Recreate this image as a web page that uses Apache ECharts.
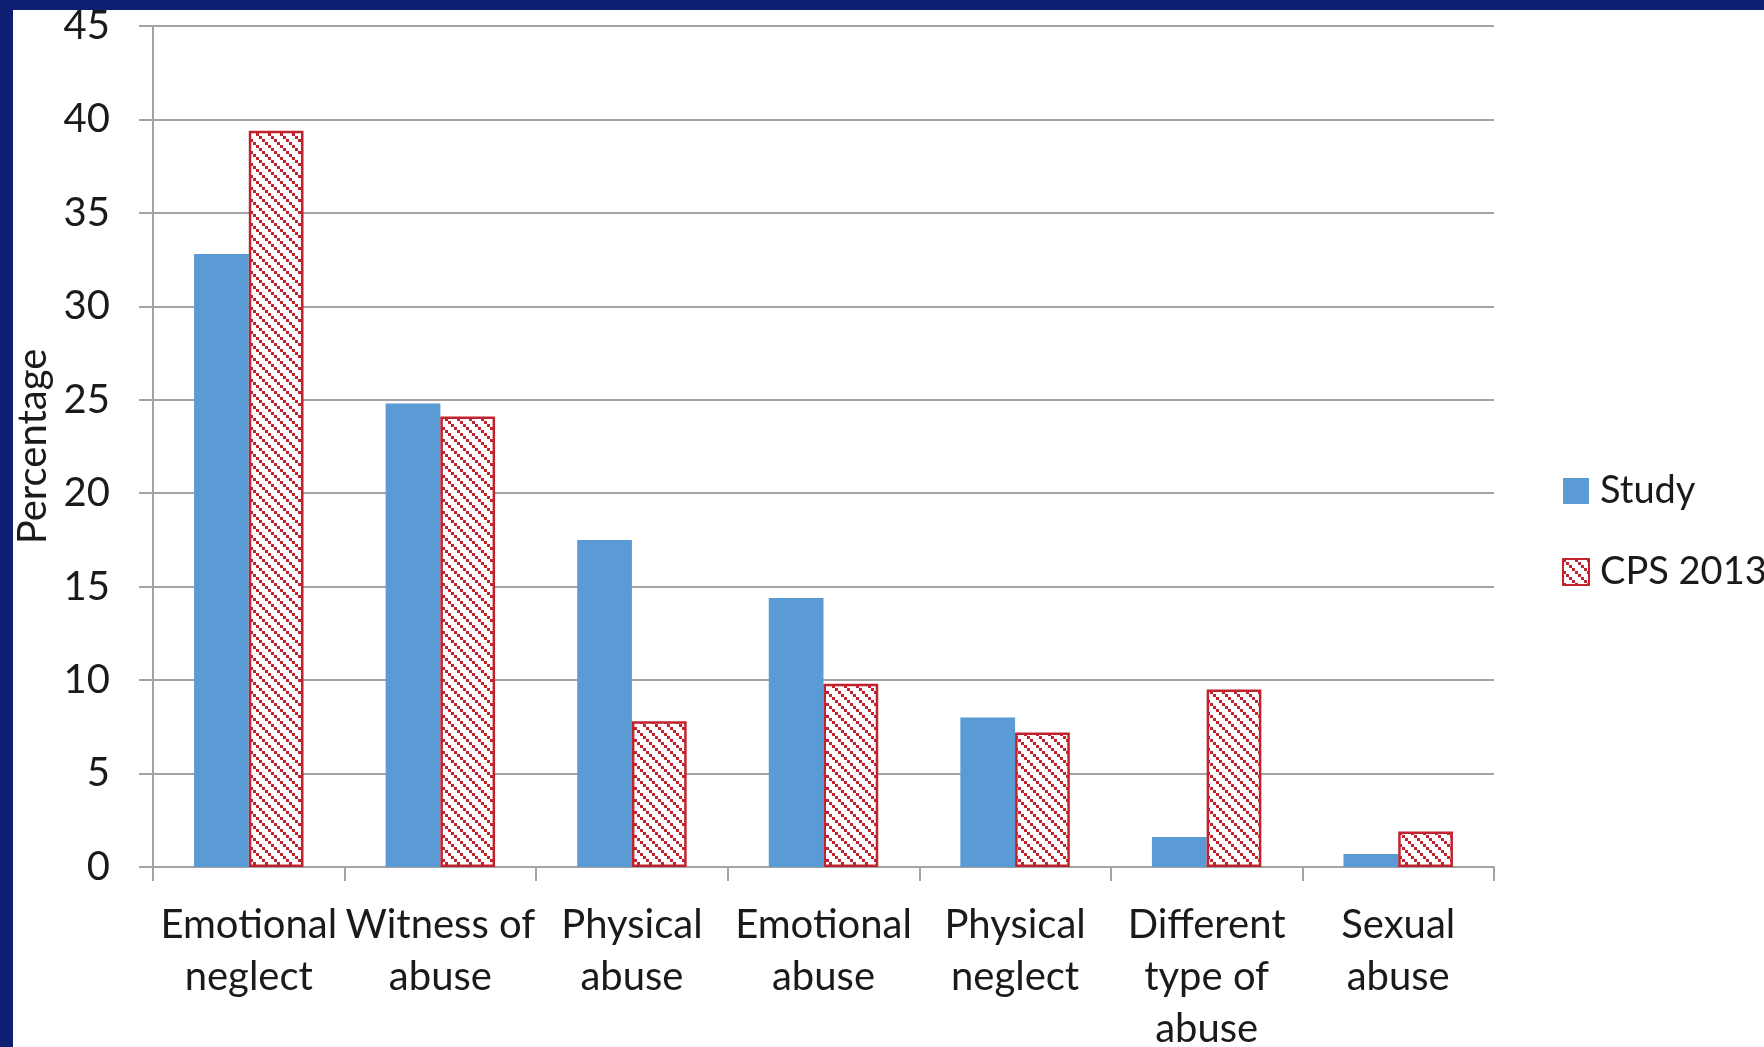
<!DOCTYPE html>
<html>
<head>
<meta charset="utf-8">
<title>Types of maltreatment: Study vs CPS 2013</title>
<script src="https://cdn.jsdelivr.net/npm/echarts@6/dist/echarts.min.js"></script>
<style>
  html, body { margin: 0; padding: 0; width: 1764px; height: 1047px; background: #0c1f72; overflow: hidden; }
  #chart { position: absolute; left: 13px; top: 10px; width: 1751px; height: 1037px; background: #ffffff; }
</style>
</head>
<body>
<div id="chart"></div>
<script>
// Maltreatment categories (line breaks as printed under the axis)
const categories = [
  'Emotional\nneglect',
  'Witness of\nabuse',
  'Physical\nabuse',
  'Emotional\nabuse',
  'Physical\nneglect',
  'Different\ntype of\nabuse',
  'Sexual\nabuse'
];

// Percentages per category
const studyValues = [32.8, 24.8, 17.5, 14.4, 8.0, 1.6, 0.7];
const cpsValues   = [39.4, 24.1, 7.8, 9.8, 7.2, 9.5, 1.9];

const seriesNames = ['Study', 'CPS 2013'];
const yAxisName = 'Percentage';

const FONT = 'Lato, "Open Sans", sans-serif';
const TEXT = '#1a1a1a';
const GRID = '#a3a3a3';
const BLUE = '#5b9bd5';
const RED = '#c1232e';

// Dotted downward-diagonal hatch for the CPS bars
function hatchPattern() {
  const size = 12;
  const c = document.createElement('canvas');
  c.width = size; c.height = size;
  const g = c.getContext('2d');
  g.fillStyle = '#ffffff';
  g.fillRect(0, 0, size, size);
  g.fillStyle = RED;
  for (let i = 0; i < 4; i++) {
    const p = i * 3;
    g.fillRect(p, p, 3, 3);
  }
  return c;
}

const chart = echarts.init(document.getElementById('chart'), null, { renderer: 'canvas' });

const option = {
  animation: false,
  textStyle: { fontFamily: FONT, color: TEXT },
  grid: { left: 140, top: 16, right: 270, bottom: 180, containLabel: false, outerBoundsMode: 'none' },
  legend: {
    orient: 'vertical',
    left: 1549,
    top: 462,
    padding: 0,
    icon: 'rect',
    itemWidth: 26,
    itemHeight: 26,
    itemGap: 43,
    data: seriesNames,
    textStyle: { fontFamily: FONT, fontSize: 38, color: TEXT, lineHeight: 26, padding: [0, 0, 0, 6] }
  },
  xAxis: {
    type: 'category',
    data: categories,
    axisLine: { show: true, lineStyle: { color: GRID, width: 2 } },
    axisTick: { show: true, length: 14, lineStyle: { color: GRID, width: 2 } },
    axisLabel: {
      interval: 0,
      margin: 32,
      fontFamily: FONT,
      fontSize: 40,
      lineHeight: 52,
      color: TEXT
    }
  },
  yAxis: {
    type: 'value',
    min: 0,
    max: 45,
    interval: 5,
    name: yAxisName,
    nameLocation: 'middle',
    nameGap: 100,
    nameRotate: 90,
    nameTextStyle: { fontFamily: FONT, fontSize: 40, color: TEXT },
    axisLine: { show: true, lineStyle: { color: GRID, width: 2 } },
    axisTick: { show: true, length: 14, lineStyle: { color: GRID, width: 2 } },
    axisLabel: { margin: 43, fontFamily: FONT, fontSize: 40, color: TEXT },
    splitLine: { show: true, lineStyle: { color: GRID, width: 2 } }
  },
  series: [
    {
      name: seriesNames[0],
      type: 'bar',
      data: studyValues,
      barGap: '0%',
      barCategoryGap: '42.86%',
      itemStyle: { color: BLUE }
    },
    {
      name: seriesNames[1],
      type: 'bar',
      data: cpsValues,
      barGap: '0%',
      barCategoryGap: '42.86%',
      itemStyle: {
        color: { image: hatchPattern(), repeat: 'repeat' },
        borderColor: RED,
        borderWidth: 2.5
      }
    }
  ]
};

chart.setOption(option);
</script>
</body>
</html>
